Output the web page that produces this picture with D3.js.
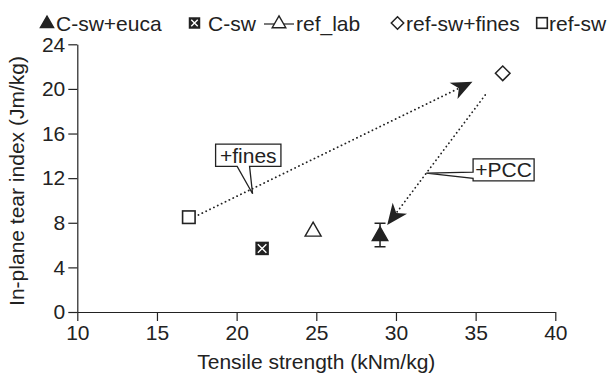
<!DOCTYPE html>
<html><head><meta charset="utf-8">
<script src="https://cdn.jsdelivr.net/npm/d3@7"></script>
<style>body{margin:0;background:#fff}svg{display:block}text{font-family:"Liberation Sans",Arial,sans-serif;fill:#222}</style>
</head><body><svg id="c" width="611" height="374"></svg>
<script>
// ---- data ----
const seriesNames = ["C-sw+euca","C-sw","ref_lab","ref-sw+fines","ref-sw"];
const seriesX = [29.0, 21.6, 24.8, 36.7, 17.0];
const seriesY = [6.9, 5.7, 7.3, 21.4, 8.5];
const seriesErr = [1.05, 0, 0, 0, 0];
const xTicks = [10,15,20,25,30,35,40];
const yTicks = [0,4,8,12,16,20,24];
const arrowFrom = [[17.6,8.7],[35.6,19.45]];
const arrowTo = [[34.8,20.65],[29.45,7.8]];
const calloutText = ["+fines","+PCC"];
const calloutBox = [[18.68,15.05,22.78,13.05],[34.84,13.72,38.67,11.75]];
const calloutTip = [[21.0,10.6],[31.9,12.45]];

const svg = d3.select("#c");
const ink = "#222";
const x = d3.scaleLinear().domain([10,40]).range([77.3,555.3]);
const y = d3.scaleLinear().domain([0,24]).range([312,44.3]);

// axes
const gx = svg.append("g").attr("transform",`translate(0,${y(0)})`)
  .call(d3.axisBottom(x).tickValues(xTicks).tickSize(9).tickSizeOuter(0).tickPadding(4));
const gy = svg.append("g").attr("transform",`translate(${x(10)},0)`)
  .call(d3.axisLeft(y).tickValues(yTicks).tickSize(9).tickSizeOuter(0).tickPadding(3));
[gx,gy].forEach(g=>{
  g.select(".domain").attr("stroke",ink).attr("stroke-width",1.2);
  g.selectAll(".tick line").attr("stroke",ink).attr("stroke-width",1.2);
  g.selectAll(".tick text").attr("fill",ink).style("font-size","21px").style("font-family",'"Liberation Sans",Arial,sans-serif');
});
svg.append("text").attr("x",(x(10)+x(40))/2).attr("y",369).attr("text-anchor","middle")
  .style("font-size","21px").text("Tensile strength (kNm/kg)");
svg.append("text").attr("transform",`translate(24,181) rotate(-90)`).attr("text-anchor","middle")
  .style("font-size","21px").text("In-plane tear index (Jm/kg)");

// marker painters
function tri(g,cx,cy,w,h,fill){
  return g.append("path").attr("d",`M${cx},${cy-h*0.6}L${cx+w/2},${cy+h*0.4}L${cx-w/2},${cy+h*0.4}Z`)
    .attr("fill",fill?ink:"#fff").attr("stroke",ink).attr("stroke-width",1.4).attr("stroke-linejoin","miter");
}
function sq(g,cx,cy,s){
  return g.append("rect").attr("x",cx-s/2).attr("y",cy-s/2).attr("width",s).attr("height",s)
    .attr("fill","#fff").attr("stroke",ink).attr("stroke-width",1.6);
}
function xbox(g,cx,cy,s){
  g.append("rect").attr("x",cx-s/2).attr("y",cy-s/2).attr("width",s).attr("height",s).attr("fill",ink);
  const d=s/2-2.5;
  g.append("path").attr("d",`M${cx-d},${cy-d}L${cx+d},${cy+d}M${cx+d},${cy-d}L${cx-d},${cy+d}`)
    .attr("stroke","#fff").attr("stroke-width",1.4);
}
function dia(g,cx,cy,r){
  return g.append("path").attr("d",`M${cx},${cy-r}L${cx+r},${cy}L${cx},${cy+r}L${cx-r},${cy}Z`)
    .attr("fill","#fff").attr("stroke",ink).attr("stroke-width",1.5);
}
function marker(g,i,cx,cy,scale){
  const k=scale||1;
  if(i===0) tri(g,cx,cy,15.5*k,13.5*k,true);
  else if(i===1) xbox(g,cx,cy,13.5*k);
  else if(i===2) tri(g,cx,cy,16*k,14*k,false);
  else if(i===3) dia(g,cx,cy,7.3*k);
  else sq(g,cx,cy,12.5*k);
}

// arrows (dotted with dart heads)
const ag = svg.append("g");
arrowFrom.forEach((f,i)=>{
  const x0=x(f[0]),y0=y(f[1]),x1=x(arrowTo[i][0]),y1=y(arrowTo[i][1]);
  const ang=Math.atan2(y1-y0,x1-x0), L=21, W=9;
  const bx=x1-Math.cos(ang)*L*0.72, by=y1-Math.sin(ang)*L*0.72;
  ag.append("line").attr("x1",x0).attr("y1",y0).attr("x2",bx).attr("y2",by)
    .attr("stroke",ink).attr("stroke-width",1.8).attr("stroke-dasharray","0.1,4.2").attr("stroke-linecap","round");
  const c=Math.cos(ang), s=Math.sin(ang);
  const p=(a,b)=>[x1+c*a - s*b, y1+s*a + c*b];
  const pts=[p(0,0),p(-L,W),p(-L*0.72,0),p(-L,-W)];
  ag.append("path").attr("d","M"+pts.map(q=>q.join(",")).join("L")+"Z").attr("fill",ink);
});

// callouts
calloutText.forEach((t,i)=>{
  const b=calloutBox[i], L=x(b[0]),T=y(b[1]),R=x(b[2]),B=y(b[3]);
  const tx=x(calloutTip[i][0]), ty=y(calloutTip[i][1]);
  const g=svg.append("g");
  let d;
  if(i===0){
    const a1=L+(R-L)*0.33, a2=L+(R-L)*0.52;
    d=`M${L},${T}L${R},${T}L${R},${B}L${a2},${B}L${tx},${ty}L${a1},${B}L${L},${B}Z`;
  }else{
    const a1=T+(B-T)*0.6, a2=T+(B-T)*0.88;
    d=`M${L},${T}L${R},${T}L${R},${B}L${L},${B}L${L},${a2}L${tx},${ty}L${L},${a1}Z`;
  }
  g.append("path").attr("d",d).attr("fill","#fff").attr("stroke",ink).attr("stroke-width",1.3).attr("stroke-linejoin","miter");
  g.append("text").attr("x",(L+R)/2).attr("y",(T+B)/2+7.5).attr("text-anchor","middle").style("font-size","21px").text(t);
});

// points
const pg = svg.append("g");
seriesNames.forEach((n,i)=>{
  const cx=x(seriesX[i]), cy=y(seriesY[i]);
  if(seriesErr[i]>0){
    const t=y(seriesY[i]+seriesErr[i]), b=y(seriesY[i]-seriesErr[i]);
    pg.append("path").attr("d",`M${cx},${t}L${cx},${b}M${cx-5.5},${t}L${cx+5.5},${t}M${cx-5.5},${b}L${cx+5.5},${b}`)
      .attr("stroke",ink).attr("stroke-width",1.5);
  }
  marker(pg,i,cx,cy);
});

// legend
const legX = [47, 194.5, 279, 397.5, 542];
const legTextX = [56, 208, 296, 406, 549];
const lg = svg.append("g");
const ly = 23;
seriesNames.forEach((n,i)=>{
  if(i===2){
    lg.append("line").attr("x1",legX[i]-15).attr("x2",legX[i]+15).attr("y1",ly+1).attr("y2",ly+1).attr("stroke",ink).attr("stroke-width",1.2);
  }
  marker(lg,i,legX[i],ly,0.85);
  lg.append("text").attr("x",legTextX[i]).attr("y",ly+7.5).style("font-size","21px").text(n);
});
</script></body></html>
